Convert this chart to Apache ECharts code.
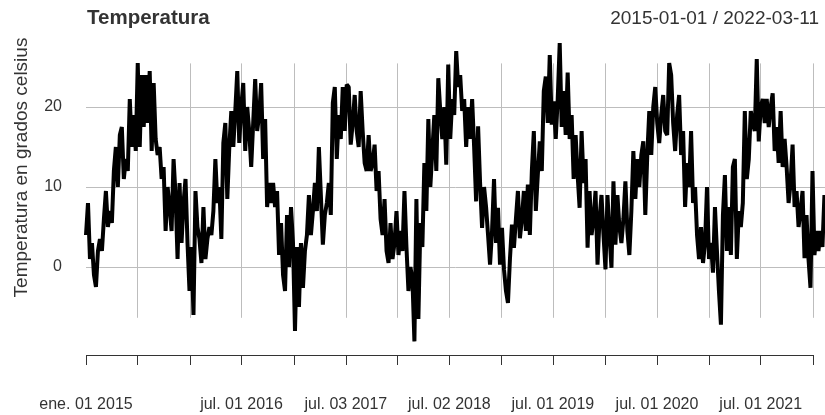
<!DOCTYPE html>
<html>
<head>
<meta charset="utf-8">
<script src="https://cdn.jsdelivr.net/npm/echarts@6/dist/echarts.min.js"></script>
<style>
  html, body { margin: 0; padding: 0; background: #fff; }
  #chart { width: 825px; height: 415px; }
</style>
</head>
<body>
<div id="chart"></div>
<script>
// lecturas semanales (cada 7 días desde 2015-01-01), grados celsius
const temp2015 = [4, 8, 1, 3, -1, -2.5, 2, 3.5, 2, 6,
  9.5, 5, 7, 5.5, 12, 15, 10, 16.5, 17.5, 11,
  13.5, 12, 21, 15, 19, 14.5, 25.5, 15, 24, 17.5,
  24, 18, 24.5, 14.5, 23, 16, 14, 15, 11, 12.5,
  4.5, 10, 7.5, 4.5, 13.5, 9, 1, 10.5, 3, 8,
  11, 3, -3]
const temp2016 = [2.5, -6, 9.5, 5, 3.5, 0.5, 7.5, 1, 3.5, 5,
  4, 7, 13.5, 8, 10, 3.5, 15.5, 18, 8.5, 15,
  19.5, 15, 19.5, 24.5, 15.5, 20, 23, 14.5, 20, 17,
  12.5, 18, 23.5, 17, 19, 23, 13.5, 18.5, 7.5, 10.5,
  8, 10.5, 7.5, 9.5, 1.5, 5.5, -1, -3, 6.5, 0,
  7.5, 3]
const temp2017 = [-8, 2.5, -5, 3, -2.6, 2, 4, 9, 4, 7,
  10.5, 7, 15, 9, 2.8, 6.5, 8, 10.5, 6.5, 20.5,
  22.5, 13.5, 19, 16, 22.5, 17, 22.8, 22.5, 15.3, 18,
  21.5, 17, 15, 22, 17, 13, 12, 16.5, 12, 13,
  15.3, 9.5, 12, 6, 4, 8.5, 2, 0.5, 5.5, 1,
  3, 7]
const temp2018 = [1.5, 4.5, 2, 9.5, 2.5, -3, 0, -1.5, -9.3, 8.5,
  -6.5, 5.5, 2.5, 13, 7, 18.5, 10, 14.5, 19, 12,
  23.6, 19.5, 16, 20, 12.8, 25.3, 16, 21, 19, 27,
  22.5, 24, 19.5, 21, 15, 20, 16, 21, 15, 8.2,
  17.6, 10.5, 4.9, 10, 7.5, 4, 0.3, 4.5, 11, 3,
  7.4, 0.3]
const temp2019 = [4.9, -0.3, -3, -4.5, 1, 5.3, 2.4, 6, 9.5, 3.6,
  6, 9.5, 4.5, 10.3, 4, 12, 17, 7, 11.5, 15.7,
  12, 22, 23.8, 18, 26.5, 17.8, 20.7, 16, 21, 28,
  17.5, 22, 16.5, 24.3, 16, 19, 11, 16.5, 11.5, 7.4,
  17, 10.5, 13.5, 2.4, 9.5, 4, 6, 9.5, 0.3, 6,
  9, 4]
const temp2020 = [-0.3, 9, 4, -0.1, 10.7, 2.8, 9, 5, 3, 6,
  10.7, 4.5, 1.5, 7, 14.5, 8.5, 13.5, 10, 14, 15.7,
  6.5, 14, 19.5, 14, 20, 22.5, 18, 15.5, 19, 21.5,
  17, 16.5, 25.5, 24, 18, 14.5, 19, 21.5, 14, 17,
  7.5, 13, 10, 17, 8, 10, 4, 1, 5, 0.5,
  3, 10, 1]
const temp2021 = [3, -0.7, 7.5, 2, -3, -7.2, 6.5, 11.5, 2, 7.5,
  1.5, 12.5, 13.5, 1, 7, 5, 8, 19.5, 11, 13.5,
  19.5, 18, 17, 26, 15.7, 20, 21, 18, 21, 17.5,
  20, 21.7, 14.5, 17.5, 13, 19.5, 12.5, 16, 12.5, 8,
  10.5, 15.3, 7.5, 9.5, 5, 7, 9.5, 1.1, 6.5, 1,
  -2.6, 12]
const temp2022 = [1.5, 4.5, 2, 4.5, 2.5, 9]

const tickDates = ['2015-01-01', '2015-07-01', '2016-01-01', '2016-07-01', '2017-01-02',
  '2017-07-03', '2018-01-01', '2018-07-02', '2019-01-01', '2019-07-01', '2020-01-01',
  '2020-07-01', '2021-01-01', '2021-07-01', '2022-01-03']
const labelDates = ['2015-01-01', '2016-07-01', '2017-07-03', '2018-07-02',
  '2019-07-01', '2020-07-01', '2021-07-01']
const yLabels = [0, 10, 20]
const mesesCortos = ['ene.', 'feb.', 'mar.', 'abr.', 'may.', 'jun.', 'jul.', 'ago.', 'sept.', 'oct.', 'nov.', 'dic.']

const FONT = '"Liberation Sans", Arial, sans-serif'

function toTime(s) {
  const [y, m, d] = s.split('-').map(Number)
  return new Date(y, m - 1, d).getTime()
}

const weekly = [].concat(temp2015, temp2016, temp2017, temp2018, temp2019, temp2020, temp2021, temp2022)
const seriesData = weekly.map((v, i) => [new Date(2015, 0, 1 + 7 * i).getTime(), v])

const tickTimes = tickDates.map(toTime)
const labelTimes = labelDates.map(toTime)

const gridColor = '#bdbdbd'
const axisColor = '#333'
const Y_MIN = -12.25   // bottom of the tick marks
const Y_AXIS = -11     // where the x axis line sits

const markData = [
  // horizontal grid
  ...yLabels.map(v => ({ yAxis: v, lineStyle: { color: gridColor, width: 1, type: 'solid' } })),
  // vertical grid (no line at the first tick)
  ...tickTimes.slice(1).map(t => [
    { coord: [t, 25.45], lineStyle: { color: gridColor, width: 1, type: 'solid' } },
    { coord: [t, -6.35] },
  ]),
  // x axis line, only up to the last tick
  [
    { coord: [tickTimes[0], Y_AXIS], lineStyle: { color: axisColor, width: 1, type: 'solid' } },
    { coord: [tickTimes[tickTimes.length - 1], Y_AXIS] },
  ],
  // ticks below the axis line
  ...tickTimes.map(t => [
    { coord: [t, Y_AXIS], lineStyle: { color: axisColor, width: 1, type: 'solid' } },
    { coord: [t, Y_MIN] },
  ]),
]

const chart = echarts.init(document.getElementById('chart'))
chart.setOption({
  animation: false,
  title: [
    {
      text: 'Temperatura',
      left: 87, top: 8, padding: 0,
      textStyle: { fontFamily: FONT, fontSize: 20.5, fontWeight: 'bold', color: '#333' },
    },
    {
      text: '2015-01-01 / 2022-03-11',
      right: 6, top: 9, padding: 0,
      textStyle: { fontFamily: FONT, fontSize: 19, fontWeight: 'normal', color: '#333' },
    },
  ],
  graphic: [{
    type: 'text',
    x: 21.5, y: 167.5,
    rotation: Math.PI / 2,
    style: {
      text: 'Temperatura en grados celsius',
      font: '19px ' + FONT,
      fill: '#333',
      align: 'center',
      verticalAlign: 'middle',
    },
  }],
  grid: { left: 86, top: 27, right: 0, height: 338 },
  xAxis: {
    type: 'value',
    min: toTime('2015-01-01'),
    // right edge of the visible window (the series runs to 2022-03-11)
    max: toTime('2022-02-12'),
    axisLine: { show: false },
    splitLine: { show: false },
    axisTick: { show: false },
    axisLabel: {
      customValues: labelTimes,
      margin: 32,
      fontFamily: FONT,
      fontSize: 16,
      color: '#333',
      hideOverlap: false,
      formatter: (val) => {
        const d = new Date(val)
        const dd = String(d.getDate()).padStart(2, '0')
        return `${mesesCortos[d.getMonth()]} ${dd} ${d.getFullYear()}`
      },
    },
  },
  yAxis: {
    type: 'value',
    min: Y_MIN,
    max: 30,
    axisLine: { show: false },
    axisTick: { show: false },
    splitLine: { show: false },
    axisLabel: {
      customValues: yLabels,
      margin: 24,
      align: 'right',
      fontFamily: FONT,
      fontSize: 16,
      color: '#333',
    },
  },
  series: [{
    type: 'line',
    data: seriesData,
    showSymbol: false,
    symbol: 'none',
    clip: false,
    silent: true,
    z: 3,
    lineStyle: { color: '#000', width: 4 },
    markLine: {
      z: 1,
      silent: true,
      symbol: 'none',
      animation: false,
      label: { show: false },
      emphasis: { disabled: true },
      data: markData,
    },
  }],
})
</script>
</body>
</html>
